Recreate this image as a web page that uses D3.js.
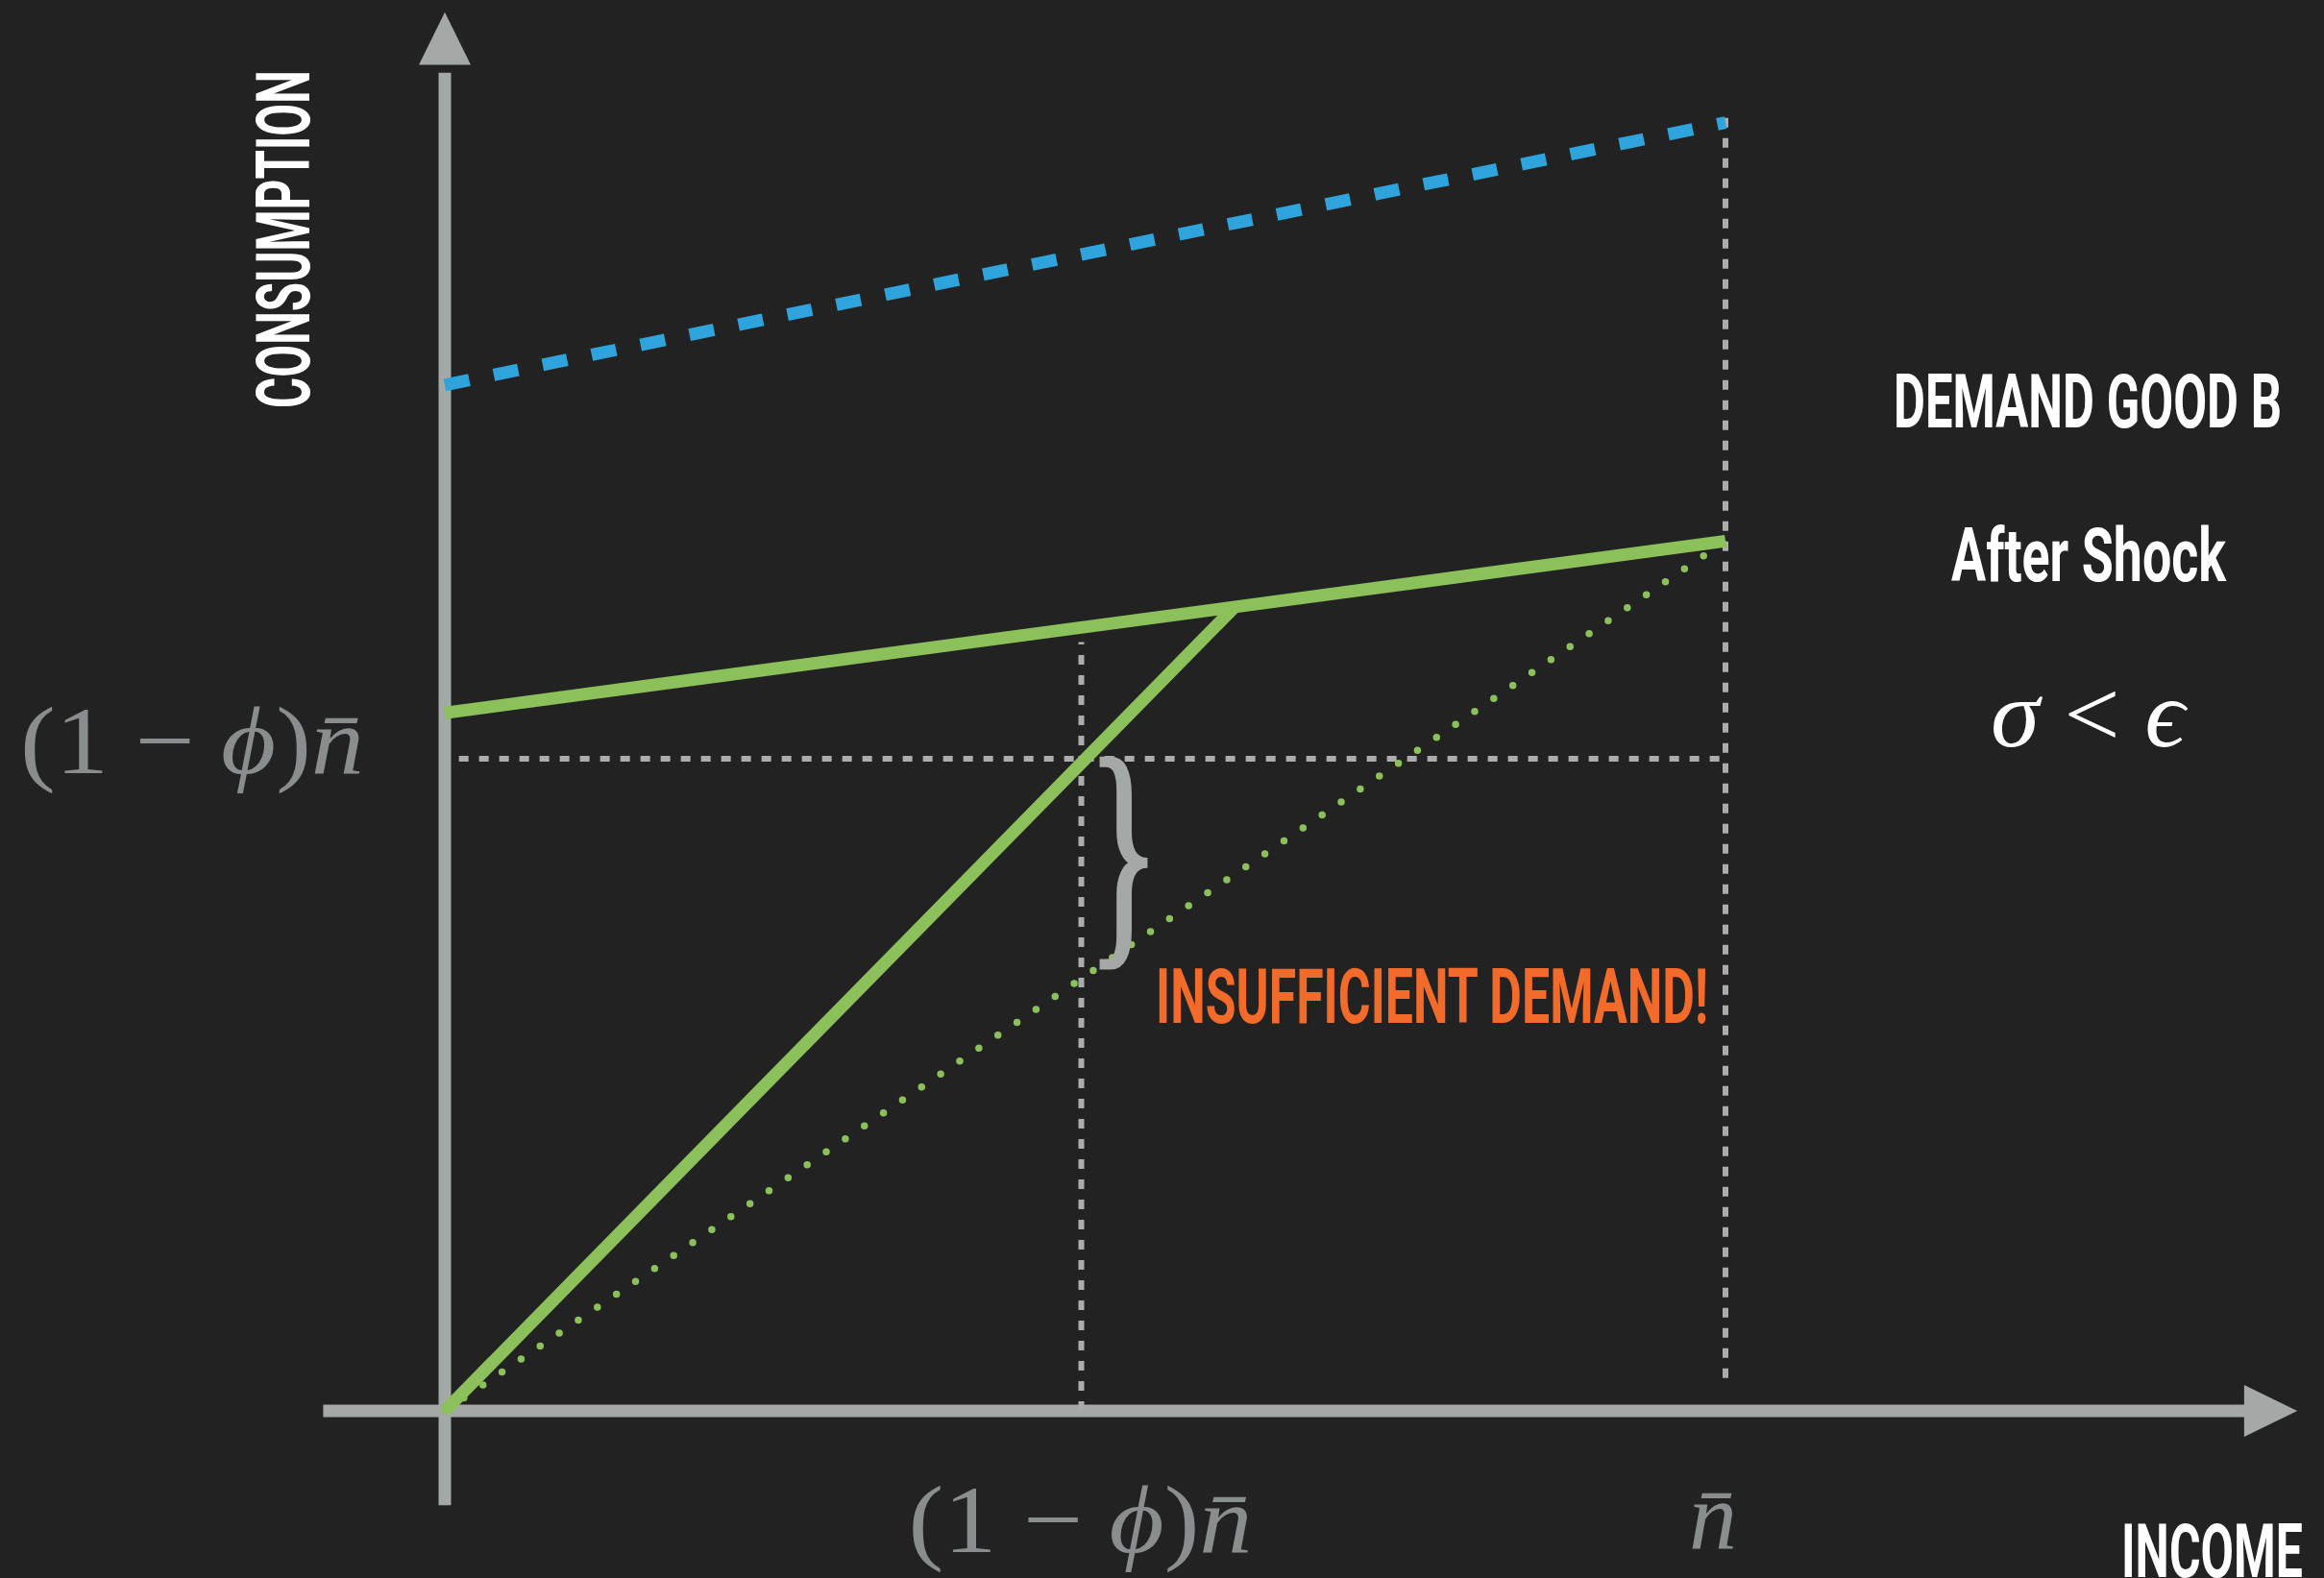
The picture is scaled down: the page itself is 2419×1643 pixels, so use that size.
<!DOCTYPE html>
<html>
<head>
<meta charset="utf-8">
<script src="https://cdn.jsdelivr.net/npm/d3@7"></script>
<style>
  html, body { margin: 0; padding: 0; background: #222222; overflow: hidden; }
  svg { display: block; }
</style>
</head>
<body>
<div id="chart-container"></div>
<script>
// 1. DATA (income and consumption, in units of n-bar)
const phi = 0.503;
const beforeShock = [{ x: 0, y: 0.782 }, { x: 1, y: 0.982 }];     // blue dashed
const demandAfter = [{ x: 0, y: 0.532 }, { x: 1, y: 0.663 }];     // green solid, flat
const incomeLine = [{ x: 0, y: 0 }, { x: 0.617, y: 0.613 }];      // green solid, ~45 degrees
const demandOld = [{ x: 0, y: 0 }, { x: 1, y: 0.663 }];           // green dotted
const guideH = [{ x: 0.011, y: 1 - phi }, { x: 1, y: 1 - phi }];
const guideV1 = [{ x: 1 - phi, y: 0 }, { x: 1 - phi, y: 0.586 }];
const guideV2 = [{ x: 1, y: 0.025 }, { x: 1, y: 0.991 }];

const titleLines = ["DEMAND GOOD B", "After Shock"];
const xAxisTitle = "INCOME";
const yAxisTitle = "CONSUMPTION";
const gapLabel = "INSUFFICIENT DEMAND!";

// 2. CONFIGURATION
const W = 2419, H = 1643;
const colors = {
    bg: "#222222", axis: "#a4a8a7", guide: "#acacac", green: "#8bc05a",
    blue: "#2fa4dc", orange: "#f26b2a", math: "#8a8d8d", white: "#ffffff"
};
const headFont = "'Liberation Sans Narrow', 'Roboto', 'DejaVu Sans Condensed', sans-serif";
const mathFont = "'Liberation Serif', 'DejaVu Serif', serif";

const x = d3.scaleLinear().domain([0, 1]).range([463, 1796]);
const y = d3.scaleLinear().domain([0, 1]).range([1469, 103]);

const svg = d3.select("#chart-container")
    .append("svg")
    .attr("width", W)
    .attr("height", H);

svg.append("rect").attr("width", W).attr("height", H).attr("fill", colors.bg);

const line = d3.line().x(d => x(d.x)).y(d => y(d.y));

// 3. AXES (arrows, no ticks)
svg.append("line")
    .attr("x1", x(0)).attr("x2", x(0))
    .attr("y1", y(-0.072)).attr("y2", y(1.02))
    .attr("stroke", colors.axis).attr("stroke-width", 13);
svg.append("path")
    .attr("d", `M${x(0)},${y(1.066)} L${x(0) + 27},${y(1.026)} L${x(0) - 27},${y(1.026)} Z`)
    .attr("fill", colors.axis);

svg.append("line")
    .attr("x1", x(-0.095)).attr("x2", x(1.41))
    .attr("y1", y(0)).attr("y2", y(0))
    .attr("stroke", colors.axis).attr("stroke-width", 13);
svg.append("path")
    .attr("d", `M${x(1.4465)},${y(0)} L${x(1.405)},${y(0) - 27} L${x(1.405)},${y(0) + 27} Z`)
    .attr("fill", colors.axis);

// 4. GUIDES
[guideH, guideV1, guideV2].forEach(g => {
    svg.append("path").attr("d", line(g))
        .attr("fill", "none").attr("stroke", colors.guide)
        .attr("stroke-width", 6).attr("stroke-dasharray", "10 11");
});

// 5. CURVES
svg.append("path").attr("d", line(beforeShock))
    .attr("fill", "none").attr("stroke", colors.blue)
    .attr("stroke-width", 13).attr("stroke-dasharray", "26 26");

svg.append("path").attr("d", line(demandOld))
    .attr("fill", "none").attr("stroke", colors.green)
    .attr("stroke-width", 7.5).attr("stroke-linecap", "round")
    .attr("stroke-dasharray", "0 24");

svg.append("path").attr("d", line(incomeLine))
    .attr("fill", "none").attr("stroke", colors.green).attr("stroke-width", 13);
svg.append("path").attr("d", line(demandAfter))
    .attr("fill", "none").attr("stroke", colors.green).attr("stroke-width", 13);

// brace between the 45 degree line and the old demand line
svg.append("text")
    .attr("transform", `translate(${x(1 - phi) + 44},972) scale(0.6,1)`)
    .attr("text-anchor", "middle")
    .style("font-family", mathFont).style("font-size", "262px")
    .attr("fill", colors.axis).attr("stroke", colors.axis).attr("stroke-width", 5)
    .text("}");

svg.append("text")
    .attr("x", 1203).attr("y", 1065)
    .attr("textLength", 575).attr("lengthAdjust", "spacingAndGlyphs")
    .style("font-family", headFont).style("font-weight", "bold").style("font-size", "79px")
    .attr("fill", colors.orange)
    .text(gapLabel);

// 6. MATH LABELS
function mathLabel(parts, px, py, len) {
    const t = svg.append("text")
        .attr("x", px).attr("y", py)
        .attr("textLength", len).attr("lengthAdjust", "spacingAndGlyphs")
        .style("font-family", mathFont).style("font-size", "100px")
        .attr("fill", colors.math);
    parts.forEach(p => {
        t.append("tspan").style("font-style", p.i ? "italic" : "normal").text(p.t);
    });
    return t;
}
const phiBarParts = [
    { t: "(1 \u2212 ", i: false }, { t: "\u03d5", i: true }, { t: ")", i: false }, { t: "n\u0304", i: true }
];
mathLabel(phiBarParts, 21, 805, 358);
mathLabel(phiBarParts, x(1 - phi) - 180, 1616, 358);
mathLabel([{ t: "n\u0304", i: true }], x(1) - 38, 1612, 50);

// 7. TITLES
svg.append("text")
    .attr("transform", "translate(322,425) rotate(-90)")
    .attr("textLength", 352).attr("lengthAdjust", "spacingAndGlyphs")
    .style("font-family", headFont).style("font-weight", "bold").style("font-size", "78px")
    .attr("fill", colors.white)
    .text(yAxisTitle);

svg.append("text")
    .attr("x", 2208).attr("y", 1642)
    .attr("textLength", 189).attr("lengthAdjust", "spacingAndGlyphs")
    .style("font-family", headFont).style("font-weight", "bold").style("font-size", "78px")
    .attr("fill", colors.white)
    .text(xAxisTitle);

svg.append("text")
    .attr("x", 1971).attr("y", 445)
    .attr("textLength", 404).attr("lengthAdjust", "spacingAndGlyphs")
    .style("font-family", headFont).style("font-weight", "bold").style("font-size", "78px")
    .attr("fill", colors.white)
    .text(titleLines[0]);

svg.append("text")
    .attr("x", 2031).attr("y", 605)
    .attr("textLength", 286).attr("lengthAdjust", "spacingAndGlyphs")
    .style("font-family", headFont).style("font-weight", "bold").style("font-size", "78px")
    .attr("fill", colors.white)
    .text(titleLines[1]);

const cond = svg.append("text")
    .attr("x", 2072).attr("y", 777)
    .attr("textLength", 202).attr("lengthAdjust", "spacingAndGlyphs")
    .style("font-family", mathFont).style("font-size", "100px")
    .attr("fill", colors.white);
cond.append("tspan").style("font-style", "italic").text("\u03c3");
cond.append("tspan").text(" < ");
cond.append("tspan").style("font-style", "italic").text("\u03f5");
</script>
</body>
</html>
